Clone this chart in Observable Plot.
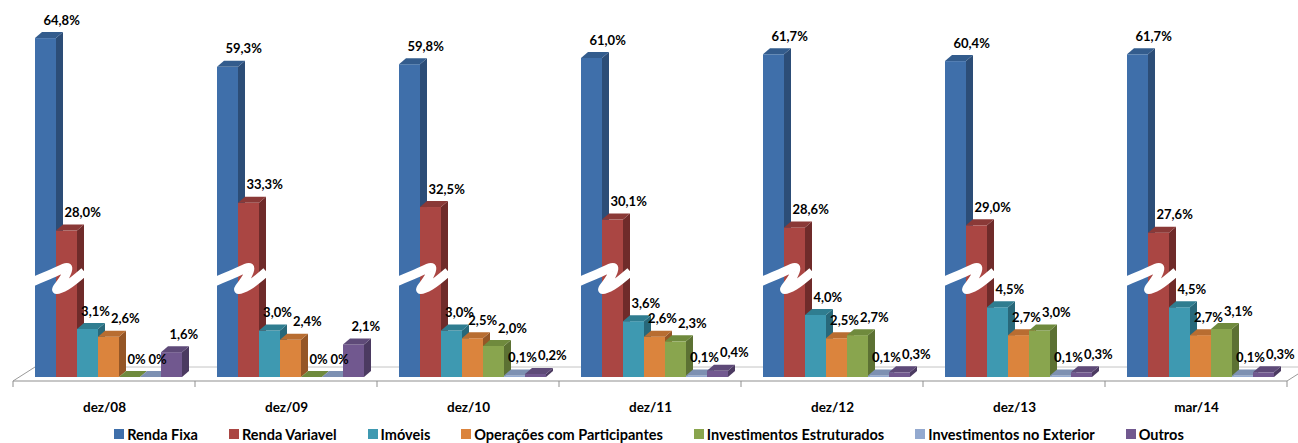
<!DOCTYPE html>
<html><head><meta charset="utf-8">
<script src="https://cdn.jsdelivr.net/npm/d3@7"></script>
<script src="https://cdn.jsdelivr.net/npm/@observablehq/plot@0.6"></script>
<style>
body{margin:0;background:#fff;}
#legend{display:flex;justify-content:center;align-items:center;height:18px;font:bold 14.5px Lato, sans-serif;color:#000;white-space:nowrap;}
.item{display:flex;align-items:center;margin:0 15.5px;}
.sw{width:10px;height:10px;margin-right:3px;display:inline-block;}
</style></head><body><div id="chart"></div><div id="legend"></div><script>
const categories = ["dez/08","dez/09","dez/10","dez/11","dez/12","dez/13","mar/14"];
const series = ["Renda Fixa","Renda Variavel","Imóveis","Operações com Participantes","Investimentos Estruturados","Investimentos no Exterior","Outros"];
const rendaFixa      = [64.8, 59.3, 59.8, 61.0, 61.7, 60.4, 61.7];
const rendaVariavel  = [28.0, 33.3, 32.5, 30.1, 28.6, 29.0, 27.6];
const imoveis        = [3.1, 3.0, 3.0, 3.6, 4.0, 4.5, 4.5];
const operacoes      = [2.6, 2.4, 2.5, 2.6, 2.5, 2.7, 2.7];
const estruturados   = [0, 0, 2.0, 2.3, 2.7, 3.0, 3.1];
const exterior       = [0, 0, 0.1, 0.1, 0.1, 0.1, 0.1];
const outros         = [1.6, 2.1, 0.2, 0.4, 0.3, 0.3, 0.3];
const seriesValues = [rendaFixa, rendaVariavel, imoveis, operacoes, estruturados, exterior, outros];

const frontColors = ["#3F6FAA","#AA4643","#3E99B1","#DB843D","#89A54E","#93A9CF","#71588F"];
const sideColors  = ["#2C4D77","#6F2B2A","#28687A","#955626","#5C7133","#65758F","#4B3A61"];
const topColors   = ["#335C8D","#8A3937","#2F7D90","#B86D31","#6F8A3D","#7D90B2","#5E4A78"];

const rows = [];
categories.forEach((cat, i) => series.forEach((s, j) => rows.push({cat, series: s, value: seriesValues[j][i]})));
const floorRows = categories.map(cat => ({cat}));

const DX = 7, DY = 6;
const fmt = v => v === 0 ? "0%" : v.toFixed(1).replace(".", ",") + "%";
const LABEL_FONT = "bold 13px Lato";
const measureCtx = document.createElement("canvas").getContext("2d");
measureCtx.font = LABEL_FONT;

function draw3D(index, scales, values) {
  const g = d3.create("svg:g");
  const w = scales.x.bandwidth();
  for (const i of index) {
    const j = series.indexOf(rows[i].series);
    const x0 = values.x[i];
    const yt = Math.min(values.y1[i], values.y2[i]);
    const yb = Math.max(values.y1[i], values.y2[i]);
    g.append("rect").attr("x", x0).attr("y", yt).attr("width", w).attr("height", yb - yt).attr("fill", frontColors[j]);
    g.append("polygon").attr("points", [[x0+w,yt],[x0+w+DX,yt-DY],[x0+w+DX,yb-DY],[x0+w,yb]].join(" ")).attr("fill", sideColors[j]);
    g.append("polygon").attr("points", [[x0,yt],[x0+DX,yt-DY],[x0+w+DX,yt-DY],[x0+w,yt]].join(" ")).attr("fill", topColors[j]);
  }
  return g.node();
}

function drawFloor(index, scales) {
  const g = d3.create("svg:g").attr("fill", "none");
  const k = categories.indexOf(floorRows[index[0]].cat);
  const [r0, r1] = scales.x.range();
  const off = scales.x(series[0]) - r0;
  const y0 = scales.y(0);
  const front = y0 + 4, back = y0 - 10;
  g.append("line").attr("x1", r0 + off).attr("x2", r1 + off).attr("y1", back).attr("y2", back).attr("stroke", "#c4c4c4");
  g.append("line").attr("x1", r0).attr("x2", r1).attr("y1", front).attr("y2", front).attr("stroke", "#8f8f8f");
  g.append("line").attr("x1", r0).attr("x2", r0).attr("y1", front).attr("y2", front + 6).attr("stroke", "#8f8f8f");
  if (k === 0) g.append("line").attr("x1", r0).attr("x2", r0 + off).attr("y1", front).attr("y2", back).attr("stroke", "#9a9a9a");
  if (k === categories.length - 1) {
    g.append("line").attr("x1", r1).attr("x2", r1).attr("y1", front).attr("y2", front + 6).attr("stroke", "#8f8f8f");
    g.append("line").attr("x1", r1).attr("x2", r1 + off).attr("y1", front).attr("y2", back).attr("stroke", "#9a9a9a");
  }
  return g.node();
}

function drawBreak(index, scales) {
  const w = scales.x.bandwidth();
  const x0 = scales.x(series[0]);
  const yb = scales.y(16);
  const pts = [[x0 - 2, yb + 2], [x0 + 0.8 * w, yb - 6], [x0 + 1.55 * w, yb - 12], [x0 + 1.4 * w, yb - 2],
               [x0 + 1.03 * w, yb + 10], [x0 + 1.5 * w, yb + 6], [x0 + 2.35 * w, yb - 8]];
  return d3.create("svg:path")
    .attr("d", d3.line().curve(d3.curveCatmullRom.alpha(0.5))(pts))
    .attr("fill", "none").attr("stroke", "#fff").attr("stroke-width", 9)
    .attr("stroke-linecap", "butt").attr("stroke-linejoin", "round").node();
}

function drawLabels(index, scales, values) {
  const g = d3.create("svg:g").attr("font-size", 13).attr("font-weight", "bold").attr("fill", "#000").attr("text-anchor", "start");
  const w = scales.x.bandwidth();
  const items = Array.from(index, i => {
    const txt = fmt(rows[i].value);
    const width = measureCtx.measureText(txt).width;
    const start = values.x[i] + w / 2 - 2;
    return {txt, width, start, y: values.y[i] - 18, j: series.indexOf(rows[i].series)};
  }).sort((a, b) => a.j - b.j);
  for (let k = 1; k < items.length; k++) {
    const p = items[k - 1], c = items[k];
    if (Math.abs(p.y - c.y) < 12.5) {
      const overlap = p.start + p.width + 1 - c.start;
      if (overlap > 0) { p.start -= overlap / 2; c.start += overlap / 2; }
    }
  }
  for (const it of items) {
    g.append("text").attr("x", it.start).attr("y", it.y).attr("dy", "0.35em").attr("text-anchor", "start").text(it.txt);
  }
  return g.node();
}

const chart = Plot.plot({
  width: 1298,
  height: 425,
  marginLeft: 12,
  marginRight: 11,
  marginTop: 0,
  marginBottom: 44,
  style: {fontFamily: "Lato, sans-serif", fontSize: "13.5px", fontWeight: "bold", color: "#000", background: "#fff"},
  fx: {domain: categories, padding: 0, axis: "bottom", tickSize: 0, tickPadding: 21, label: null},
  x: {domain: series, paddingInner: 0, paddingOuter: 0.77, align: 0.64, axis: null},
  y: {type: "linear", domain: [0, 5, 20, 70], range: [377, 299.5, 272.4, 10.9], axis: null},
  marks: [
    Plot.tickY(floorRows, {fx: "cat", y: () => 0, render: drawFloor}),
    Plot.barY(rows, {fx: "cat", x: "series", y1: () => 0, y2: "value", render: draw3D}),
    Plot.tickY(floorRows, {fx: "cat", y: () => 16, render: drawBreak}),
    Plot.text(rows, {fx: "cat", x: "series", y: "value", text: d => fmt(d.value), render: drawLabels})
  ]
});
document.getElementById("chart").appendChild(chart);

const legend = document.getElementById("legend");
series.forEach((s, j) => {
  const item = document.createElement("span");
  item.className = "item";
  const sw = document.createElement("span");
  sw.className = "sw";
  sw.style.background = frontColors[j];
  item.appendChild(sw);
  item.appendChild(document.createTextNode(s));
  legend.appendChild(item);
});
</script></body></html>
